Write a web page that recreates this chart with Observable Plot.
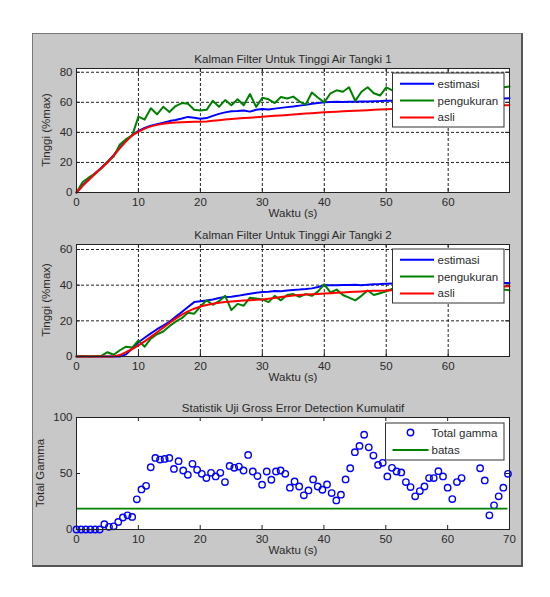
<!DOCTYPE html>
<html>
<head>
<meta charset="utf-8">
<script src="https://cdn.jsdelivr.net/npm/d3@7"></script>
<script src="https://cdn.jsdelivr.net/npm/@observablehq/plot@0.6"></script>
<style>
  html, body { margin: 0; padding: 0; background: #fff; overflow: hidden; }
  #fig { position: relative; width: 550px; height: 597px; background: #fff; }
  #panel {
    position: absolute; left: 32px; top: 33px; width: 488px; height: 531px;
    background: #c8c8c8;
    border-left: 1px solid #777; border-top: 1px solid #777;
    border-right: 2px solid #555; border-bottom: 2px solid #555;
  }
  #fig svg { position: absolute; left: 0; }
</style>
</head>
<body>
<div id="fig"><div id="panel"></div></div>
<script>
// Time base of the tank simulations (s)
const waktu = [...d3.range(0, 70), 69.9];

// Tank 1 level (%max)
const estimasi1 = [0, 4.8, 8.8, 12.8, 16.5, 20.3, 24.8, 30, 34.5, 38.3,
  41, 43, 44.5, 45.5, 46.5, 47.5, 48.3, 49.2, 50.3, 49.8,
  49, 49.5, 51, 52.3, 53.3, 54, 54.2, 54.5, 53.8, 55,
  55.6, 55.2, 55.8, 56.3, 56.8, 57.2, 57.8, 58.3, 59, 59.5,
  60, 60.2, 60.3, 60.2, 60.4, 60.3, 60.5, 60.6, 60.7, 60.8,
  61, 61.1, 61.2, 61.3, 61.4, 61.5, 61.6, 61.7, 61.8, 61.9,
  62, 62.1, 62.2, 62.2, 62.3, 62.4, 62.4, 62.5, 62.6, 62.6, 62.7];
const pengukuran1 = [0, 7, 10, 12.5, 16, 20.5, 24, 32, 35.5, 38,
  50.5, 48.5, 56, 52, 57, 53.5, 57.5, 59.5, 59, 55,
  54.5, 55, 61, 57, 61.5, 58, 62, 58, 65.5, 57,
  63, 62, 59.5, 63.5, 62.5, 63.8, 60.5, 58.5, 66.5, 63,
  60, 66, 68, 67, 70, 61, 67, 70, 66, 64.5,
  70, 68, 69, 66, 70, 68, 71, 67, 70, 69,
  72, 68, 71, 69, 72, 70, 71, 69, 72, 70, 70.5];
const asli1 = [0, 4.5, 8.5, 12.5, 16.3, 20, 24.5, 29.5, 34, 38,
  40.5, 42.5, 44, 45, 45.8, 46.3, 46.6, 46.8, 46.9, 47,
  47, 47.3, 47.7, 48.1, 48.5, 48.9, 49.2, 49.5, 49.8, 50.1,
  50.4, 50.7, 51, 51.3, 51.6, 51.9, 52.2, 52.5, 52.8, 53.1,
  53.4, 53.6, 53.8, 54, 54.2, 54.4, 54.6, 54.8, 55, 55.2,
  55.4, 55.6, 55.8, 56, 56.1, 56.3, 56.4, 56.6, 56.7, 56.9,
  57, 57.1, 57.3, 57.4, 57.5, 57.6, 57.7, 57.8, 57.9, 58, 58.1];

// Tank 2 level (%max)
const estimasi2 = [0, 0, 0, 0, 0, 0, 0, 0, 1.2, 4.5,
  8, 10.5, 13, 15.3, 17.3, 19.5, 22.2, 25, 27.8, 30.5,
  31, 31.4, 32, 32.8, 33.3, 33.5, 34, 34.6, 35.2, 35.7,
  36.1, 36.3, 36.7, 36.6, 37, 37.3, 37.5, 37.8, 38.2, 39,
  39.9, 40, 40, 40.1, 40.1, 40.2, 39.9, 40.3, 40.5, 40.6,
  40.8, 40.9, 40.9, 41, 41, 41, 41, 41.1, 41.1, 41.1,
  41.1, 41.1, 41.2, 41.2, 41.2, 41.2, 41.2, 41.2, 41.2, 41.2, 41.2];
const pengukuran2 = [0, 0.3, 0, 0.2, 0.4, 2.4, 1, 3.5, 5.5, 5,
  9, 5.5, 10, 12.5, 14, 17, 19.5, 21.5, 24.5, 24,
  28, 31.5, 29, 31, 34, 26, 29.5, 28.5, 33, 32.5,
  32, 30.5, 34, 31.5, 34.5, 35, 33.5, 35, 34, 36.5,
  40.5, 36, 37.5, 34.5, 33, 31.5, 34, 37, 34.5, 35.5,
  36.5, 38, 36, 37.5, 36, 38, 37, 38.5, 36.5, 38,
  37, 38.5, 37, 38, 36.5, 38, 37, 38.5, 37, 37.5, 37.1];
const asli2 = [0, 0, 0, 0, 0, 0, 0, 0.8, 2.5, 4.2,
  6.2, 8.5, 11, 13.6, 16.2, 18.8, 21.2, 23.5, 25.3, 26.8,
  28, 28.9, 29.6, 30.1, 30.5, 30.8, 31.1, 31.4, 31.6, 31.8,
  32, 32.4, 32.8, 33.3, 33.8, 34.2, 34.5, 34.7, 34.9, 35.1,
  35.3, 35.5, 35.7, 35.9, 36.1, 36.3, 36.5, 36.7, 36.8, 36.9,
  37, 37.2, 37.3, 37.4, 37.6, 37.7, 37.8, 37.9, 38, 38.2,
  38.3, 38.4, 38.5, 38.6, 38.8, 38.9, 39, 39.1, 39.2, 39.3, 39.4];

// Cumulative gross error test statistic, one value per 0.75 s
const gammaStep = 0.75;
const totalGamma = [0, 0, 0, 0, 0, 0, 4.7, 2.4, 2.8, 6.7,
  10.7, 12.7, 11.2, 26.9, 35.8, 39, 55.6, 63.9, 62.4, 63,
  63.9, 54.1, 61, 52.7, 48.8, 58.6, 53.3, 49.7, 45.9, 50.6,
  47.4, 50.6, 42.3, 56.8, 55.1, 56.2, 52.7, 66.6, 51.8, 47.7,
  40, 51.8, 44.4, 51.8, 52.7, 49.7, 37.3, 42.9, 38.4, 30.5,
  34.9, 44.7, 38.4, 35.5, 40.2, 32.5, 26, 31.1, 44.7, 54.7,
  69, 74.6, 84.6, 73.4, 66, 57.7, 59.5, 47.4, 55.1, 51.8,
  51, 42.3, 37.9, 29.6, 34.3, 38.4, 45.9, 45.9, 52.1, 47.4,
  37.3, 27.2, 42.3, 45.9, 68, 74, 70, 54.7, 43.8, 12.7,
  21.6, 29.6, 37.3, 49.7];
const batas = 18.6;

// Labels and ticks
const seriesNames = ["estimasi", "pengukuran", "asli"];
const seriesColors = ["#0000ff", "#008000", "#ff0000"];
const xTicksTank = [0, 10, 20, 30, 40, 50, 60];
const xTicksGamma = [0, 10, 20, 30, 40, 50, 60, 70];
const yTicksTank1 = [0, 20, 40, 60, 80];
const yTicksTank2 = [0, 20, 40, 60];
const yTicksGamma = [0, 50, 100];
const titles = [
  "Kalman Filter Untuk Tinggi Air Tangki 1",
  "Kalman Filter Untuk Tinggi Air Tangki 2",
  "Statistik Uji Gross Error Detection Kumulatif"
];
const xLabel = "Waktu (s)";
const yLabelTank = "Tinggi (%max)";
const yLabelGamma = "Total Gamma";
const gammaNames = ["Total gamma", "batas"];

const FONT = "'Liberation Sans', Arial, Helvetica, sans-serif";
const FS = "11.5px";
const INK = "#2a2a2a";
const W = 550, ML = 76, MR = 41;
const fig = document.getElementById("fig");

function axesPanel(cfg) {
  const {top, height, marginTop, marginBottom, xDomain, xTicks, yDomain, yTicks, grid,
         title, yLabel, yLabelDx, marks} = cfg;
  const fw = W - ML - MR, fh = height - marginTop - marginBottom;
  const kx = (xDomain[1] - xDomain[0]) / fw, ky = (yDomain[1] - yDomain[0]) / fh;
  const tick = 4;
  const gx = xTicks.filter(d => d > xDomain[0] && d < xDomain[1]);
  const gy = yTicks.filter(d => d > yDomain[0] && d < yDomain[1]);
  const svg = Plot.plot({
    width: W, height, marginLeft: ML, marginRight: MR, marginTop, marginBottom,
    style: {background: "transparent", fontFamily: FONT, fontSize: FS, color: INK, overflow: "visible"},
    x: {domain: xDomain},
    y: {domain: yDomain},
    marks: [
      Plot.frame({fill: "white"}),
      // inward tick marks on all four sides
      Plot.ruleX(gx, {x: d => d, y1: yDomain[0], y2: yDomain[0] + tick * ky, stroke: "#222"}),
      Plot.ruleX(gx, {x: d => d, y1: yDomain[1] - tick * ky, y2: yDomain[1], stroke: "#222"}),
      Plot.ruleY(gy, {y: d => d, x1: xDomain[0], x2: xDomain[0] + tick * kx, stroke: "#222"}),
      Plot.ruleY(gy, {y: d => d, x1: xDomain[1] - tick * kx, x2: xDomain[1], stroke: "#222"}),
      grid ? Plot.gridX(gx, {stroke: "#222", strokeOpacity: 1, strokeDasharray: "3,2"}) : null,
      grid ? Plot.gridY(gy, {stroke: "#222", strokeOpacity: 1, strokeDasharray: "3,2"}) : null,
      ...marks,
      Plot.frame({stroke: "#222"}),
      Plot.axisX(xTicks, {tickSize: 0, tickPadding: 5, label: null, tickFormat: d => String(d)}),
      Plot.axisY(yTicks, {tickSize: 0, tickPadding: 4, label: null, tickFormat: d => String(d)}),
      Plot.text([title], {frameAnchor: "top", dy: -14, text: d => d}),
      Plot.text([xLabel], {frameAnchor: "bottom", dy: 24.5, text: d => d})
    ]
  });
  // rotated y-axis title, centred on the frame
  const cy = marginTop + fh / 2;
  d3.select(svg).append("text")
    .attr("transform", `translate(${ML - yLabelDx},${cy}) rotate(-90)`)
    .attr("text-anchor", "middle").attr("dy", "0.35em")
    .attr("font-family", FONT).attr("font-size", FS).attr("fill", INK)
    .text(yLabel);
  svg.style.top = top + "px";
  fig.appendChild(svg);
  return svg;
}

function drawLegend(svg, box, rows) {
  const g = d3.select(svg).append("g")
    .attr("font-family", FONT).attr("font-size", FS).attr("text-anchor", "start");
  g.append("rect")
    .attr("x", box.x).attr("y", box.y).attr("width", box.w).attr("height", box.h)
    .attr("fill", "white").attr("stroke", "#333").attr("stroke-width", 1);
  rows.forEach((r, i) => {
    const y = box.y + box.row0 + i * box.rowGap;
    if (r.kind === "dot") {
      g.append("circle").attr("cx", box.x + box.symX).attr("cy", y).attr("r", 3.2)
        .attr("fill", "none").attr("stroke", r.color).attr("stroke-width", 1.4);
    } else {
      g.append("line").attr("x1", box.x + box.lineX1).attr("x2", box.x + box.lineX2)
        .attr("y1", y).attr("y2", y).attr("stroke", r.color).attr("stroke-width", 2);
    }
    g.append("text").attr("x", box.x + box.textX).attr("y", y).attr("dy", "0.35em")
      .attr("text-anchor", "start").attr("fill", INK).text(r.label);
  });
}

function tankMarks(series) {
  return series.map((vals, k) =>
    Plot.line(waktu.map((t, i) => ({t, v: vals[i]})),
      {x: "t", y: "v", stroke: seriesColors[k], strokeWidth: 2}));
}

const tankLegendRows = seriesNames.map((n, k) => ({label: n, color: seriesColors[k], kind: "line"}));
const tankBox = (mt) => ({x: W - MR - 5 - 111.5, y: mt + 5, w: 111.5, h: 54,
  row0: 10.8, rowGap: 16.8, lineX1: 7.5, lineX2: 41.5, textX: 45});

// Tank 1
const s1 = axesPanel({
  top: 40, height: 190, marginTop: 28, marginBottom: 38,
  xDomain: [0, 69.9], xTicks: xTicksTank, yDomain: [0, 82.5], yTicks: yTicksTank1, grid: true,
  title: titles[0], yLabel: yLabelTank, yLabelDx: 30,
  marks: tankMarks([estimasi1, pengukuran1, asli1])
});
drawLegend(s1, tankBox(28), tankLegendRows);

// Tank 2
const s2 = axesPanel({
  top: 220, height: 170, marginTop: 24, marginBottom: 34,
  xDomain: [0, 69.9], xTicks: xTicksTank, yDomain: [0, 62.8], yTicks: yTicksTank2, grid: true,
  title: titles[1], yLabel: yLabelTank, yLabelDx: 30,
  marks: tankMarks([estimasi2, pengukuran2, asli2])
});
drawLegend(s2, tankBox(24), tankLegendRows);

// Gross error statistic
const gammaData = totalGamma.map((g, i) => ({t: i * gammaStep, g}));
const tEnd = gammaData[gammaData.length - 1].t;
const s3 = axesPanel({
  top: 390, height: 175, marginTop: 27, marginBottom: 36,
  xDomain: [0, 70], xTicks: xTicksGamma, yDomain: [0, 100], yTicks: yTicksGamma, grid: false,
  title: titles[2], yLabel: yLabelGamma, yLabelDx: 36,
  marks: [
    Plot.dot(gammaData, {x: "t", y: "g", r: 3.2, stroke: "#0000ff", strokeWidth: 1.4, fill: "none"}),
    Plot.ruleY([batas], {y: d => d, x1: 0, x2: tEnd, stroke: "#008000", strokeWidth: 1.6})
  ]
});
drawLegend(s3, {x: W - MR - 5 - 118.5, y: 27 + 6, w: 118.5, h: 37,
  row0: 9.5, rowGap: 17.5, symX: 25, lineX1: 7, lineX2: 43, textX: 46},
  [{label: gammaNames[0], color: "#0000ff", kind: "dot"},
   {label: gammaNames[1], color: "#008000", kind: "line"}]);
</script>
</body>
</html>
